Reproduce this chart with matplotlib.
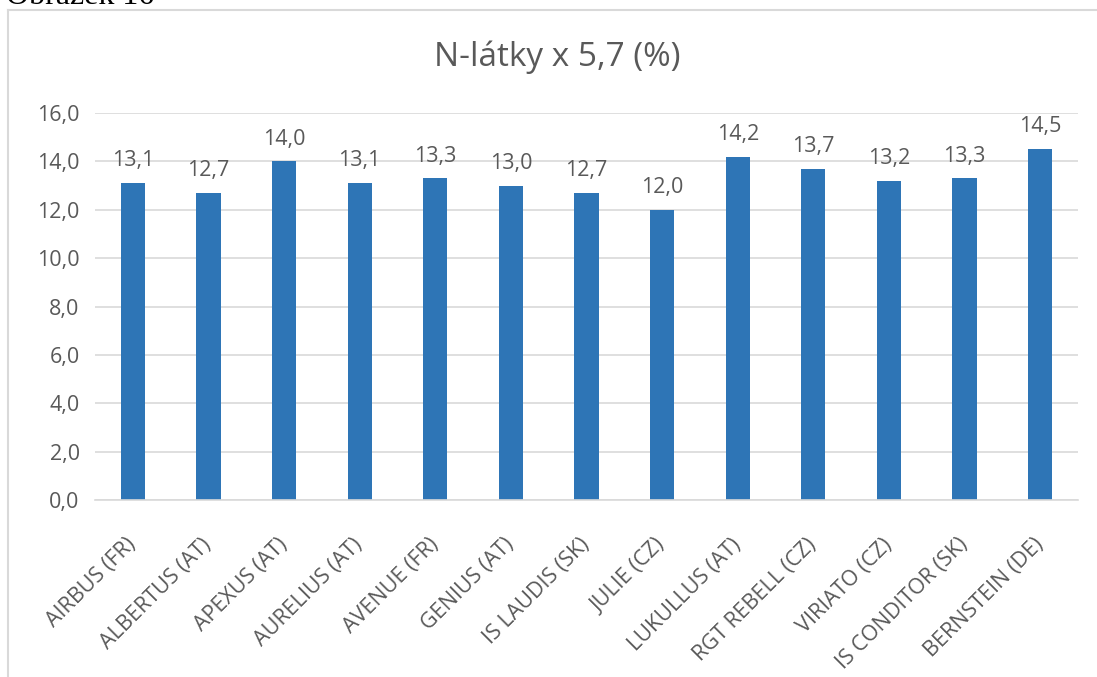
import matplotlib
matplotlib.use("Agg")
import matplotlib.pyplot as plt
from matplotlib.lines import Line2D

categories = ["AIRBUS (FR)", "ALBERTUS (AT)", "APEXUS (AT)", "AURELIUS (AT)", "AVENUE (FR)",
              "GENIUS (AT)", "IS LAUDIS (SK)", "JULIE (CZ)", "LUKULLUS (AT)", "RGT REBELL (CZ)",
              "VIRIATO (CZ)", "IS CONDITOR (SK)", "BERNSTEIN (DE)"]
values = [13.1, 12.7, 14.0, 13.1, 13.3, 13.0, 12.7, 12.0, 14.2, 13.7, 13.2, 13.3, 14.5]
yticks = [0, 2, 4, 6, 8, 10, 12, 14, 16]
title = "N-látky x 5,7 (%)"

plt.rcParams['font.family'] = ['Open Sans', 'DejaVu Sans']
txt = '#595959'
grid = '#d9d9d9'

fig = plt.figure(figsize=(10.97, 6.77), dpi=100)
W, H = 1097, 677
ax = fig.add_axes([95 / W, 1 - 500 / H, (1078 - 95) / W, (500 - 113) / H])

x = list(range(len(categories)))
ax.bar(x, values, width=0.32, color='#2e75b6', zorder=3)
for xi, v in zip(x, values):
    ax.annotate(f"{v:.1f}".replace('.', ','), (xi, v), xytext=(0, 8.5), textcoords='offset points',
                ha='center', va='bottom', fontsize=15.5, color=txt)

ax.set_xlim(-0.5, len(categories) - 0.5)
ax.set_ylim(0, 16)
ax.set_yticks(yticks)
ax.set_yticklabels([f"{t:.1f}".replace('.', ',') for t in yticks], fontsize=15.5, color=txt)
ax.set_xticks(x)
ax.set_xticklabels(categories, rotation=45, ha='right', va='center', rotation_mode='anchor',
                   fontsize=15.5, color=txt)
ax.tick_params(axis='both', length=0)
ax.tick_params(axis='y', pad=11)
ax.tick_params(axis='x', pad=30)
ax.grid(axis='y', color=grid, linewidth=1.2, zorder=0)
for s in ['top', 'right', 'left']:
    ax.spines[s].set_visible(False)
ax.spines['bottom'].set_color(grid)
ax.spines['bottom'].set_linewidth(1.2)
ax.spines['bottom'].set_zorder(4)

fig.text(557 / W, 1 - 57 / H, title, ha='center', va='center', fontsize=24, color=txt)

# chart border (partially visible)
fig.add_artist(Line2D([8 / W, 8 / W], [0, 1 - 10 / H], transform=fig.transFigure, color=grid, lw=1.5))
fig.add_artist(Line2D([8 / W, 1], [1 - 10 / H, 1 - 10 / H], transform=fig.transFigure, color=grid, lw=1.5))

# caption cut off at top
fig.text(6 / W, 1 - 3.5 / H, "Obrázek 16", ha='left', va='baseline', fontsize=23,
         family='Liberation Serif', color='black')

fig.savefig("out.png", dpi=100, facecolor='white')
